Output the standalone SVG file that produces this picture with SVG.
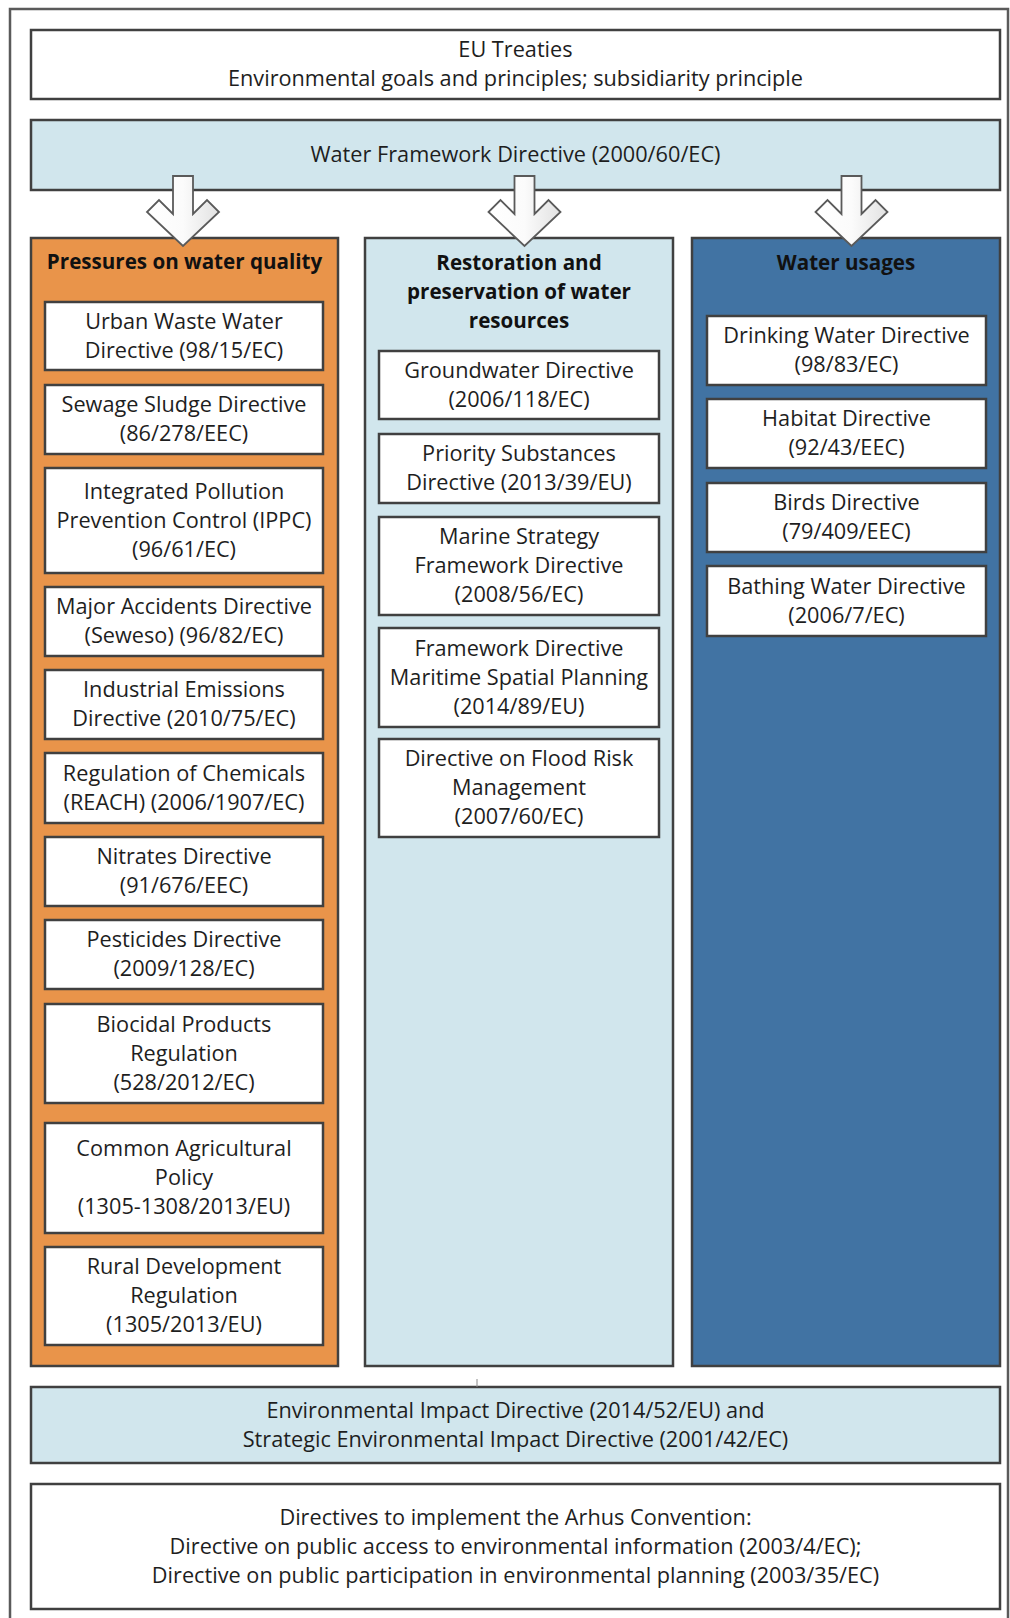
<svg xmlns="http://www.w3.org/2000/svg" width="1010" height="1618" viewBox="0 0 1010 1618">
<style>
  text { font-family: "Open Sans", "Noto Sans", "DejaVu Sans", sans-serif; font-size: 21.7px; fill: #1e1e1e; text-anchor: middle; }
  .hdr { font-weight: bold; font-size: 20.6px; fill: #111; }
  .box { fill: #ffffff; stroke: #404040; stroke-width: 2.5; }
  .lb { fill: #d1e6ed; stroke: #404040; stroke-width: 2.5; }
  .or { fill: #e9944a; stroke: #404040; stroke-width: 2.5; }
  .db { fill: #4173a3; stroke: #404040; stroke-width: 2.5; }
  .frame { fill: #ffffff; stroke: #5a5a5a; stroke-width: 2.5; }
  .arrow { fill: url(#ag); stroke: #5a5a5a; stroke-width: 1.8; stroke-linejoin: miter; }
</style>
<defs>
  <linearGradient id="ag" x1="0" y1="0" x2="1" y2="0">
    <stop offset="0" stop-color="#ffffff"/>
    <stop offset="0.5" stop-color="#fbfbfb"/>
    <stop offset="1" stop-color="#e2e2e2"/>
  </linearGradient>
  <path id="arr" d="M-10,0 H10 V38 L24,24 L36,36 L0,70 L-36,36 L-24,24 L-10,38 Z"/>
</defs>

<rect class="frame" x="10" y="9" width="998" height="1625"/>

<g id="eu-treaties">
  <rect class="box" x="31" y="30" width="969" height="69"/>
  <text x="515.5" y="57">EU Treaties</text>
  <text x="515.5" y="86">Environmental goals and principles; subsidiarity principle</text>
</g>

<g id="wfd">
  <rect class="lb" x="31" y="120" width="969" height="70"/>
  <text x="515.5" y="162">Water Framework Directive (2000/60/EC)</text>
</g>

<g id="col-pressures">
  <rect class="or" x="31" y="238" width="307" height="1128"/>
  <text class="hdr" x="184.5" y="269">Pressures on water quality</text>
</g>
<g id="col-restoration">
  <rect class="lb" x="365" y="238" width="308" height="1128"/>
  <text class="hdr" x="519" y="270">Restoration and</text>
  <text class="hdr" x="519" y="299">preservation of water</text>
  <text class="hdr" x="519" y="328">resources</text>
</g>
<g id="col-usages">
  <rect class="db" x="692" y="238" width="308" height="1128"/>
  <text class="hdr" x="846" y="270">Water usages</text>
</g>

<!-- Pressures column boxes -->
<g id="uwwd"><rect class="box" x="45" y="302" width="278" height="68"/>
  <text x="184" y="328.5">Urban Waste Water</text><text x="184" y="357.5">Directive (98/15/EC)</text></g>
<g id="sewage"><rect class="box" x="45" y="385" width="278" height="69"/>
  <text x="184" y="412">Sewage Sludge Directive</text><text x="184" y="441">(86/278/EEC)</text></g>
<g id="ippc"><rect class="box" x="45" y="468" width="278" height="105"/>
  <text x="184" y="498.5">Integrated Pollution</text><text x="184" y="527.5">Prevention Control (IPPC)</text><text x="184" y="556.5">(96/61/EC)</text></g>
<g id="seveso"><rect class="box" x="45" y="587" width="278" height="69"/>
  <text x="184" y="614">Major Accidents Directive</text><text x="184" y="643">(Seweso) (96/82/EC)</text></g>
<g id="ied"><rect class="box" x="45" y="670" width="278" height="69"/>
  <text x="184" y="697">Industrial Emissions</text><text x="184" y="726">Directive (2010/75/EC)</text></g>
<g id="reach"><rect class="box" x="45" y="753" width="278" height="70"/>
  <text x="184" y="780.5">Regulation of Chemicals</text><text x="184" y="809.5">(REACH) (2006/1907/EC)</text></g>
<g id="nitrates"><rect class="box" x="45" y="837" width="278" height="69"/>
  <text x="184" y="864">Nitrates Directive</text><text x="184" y="893">(91/676/EEC)</text></g>
<g id="pesticides"><rect class="box" x="45" y="920" width="278" height="69"/>
  <text x="184" y="947">Pesticides Directive</text><text x="184" y="976">(2009/128/EC)</text></g>
<g id="biocidal"><rect class="box" x="45" y="1004" width="278" height="99"/>
  <text x="184" y="1031.5">Biocidal Products</text><text x="184" y="1060.5">Regulation</text><text x="184" y="1089.5">(528/2012/EC)</text></g>
<g id="cap"><rect class="box" x="45" y="1123" width="278" height="110"/>
  <text x="184" y="1156">Common Agricultural</text><text x="184" y="1185">Policy</text><text x="184" y="1214">(1305-1308/2013/EU)</text></g>
<g id="rdr"><rect class="box" x="45" y="1247" width="278" height="98"/>
  <text x="184" y="1274">Rural Development</text><text x="184" y="1303">Regulation</text><text x="184" y="1332">(1305/2013/EU)</text></g>

<!-- Restoration column boxes -->
<g id="groundwater"><rect class="box" x="379" y="351" width="280" height="68"/>
  <text x="519" y="377.5">Groundwater Directive</text><text x="519" y="406.5">(2006/118/EC)</text></g>
<g id="priority"><rect class="box" x="379" y="434" width="280" height="69"/>
  <text x="519" y="461">Priority Substances</text><text x="519" y="490">Directive (2013/39/EU)</text></g>
<g id="msfd"><rect class="box" x="379" y="517" width="280" height="98"/>
  <text x="519" y="544">Marine Strategy</text><text x="519" y="573">Framework Directive</text><text x="519" y="602">(2008/56/EC)</text></g>
<g id="msp"><rect class="box" x="379" y="628" width="280" height="99"/>
  <text x="519" y="655.5">Framework Directive</text><text x="519" y="684.5">Maritime Spatial Planning</text><text x="519" y="713.5">(2014/89/EU)</text></g>
<g id="flood"><rect class="box" x="379" y="739" width="280" height="98"/>
  <text x="519" y="766">Directive on Flood Risk</text><text x="519" y="795">Management</text><text x="519" y="824">(2007/60/EC)</text></g>

<!-- Usages column boxes -->
<g id="drinking"><rect class="box" x="707" y="316" width="279" height="69"/>
  <text x="846.5" y="343">Drinking Water Directive</text><text x="846.5" y="372">(98/83/EC)</text></g>
<g id="habitat"><rect class="box" x="707" y="399" width="279" height="69"/>
  <text x="846.5" y="426">Habitat Directive</text><text x="846.5" y="455">(92/43/EEC)</text></g>
<g id="birds"><rect class="box" x="707" y="483" width="279" height="69"/>
  <text x="846.5" y="510">Birds Directive</text><text x="846.5" y="539">(79/409/EEC)</text></g>
<g id="bathing"><rect class="box" x="707" y="566" width="279" height="70"/>
  <text x="846.5" y="593.5">Bathing Water Directive</text><text x="846.5" y="622.5">(2006/7/EC)</text></g>

<g id="eia">
  <rect class="lb" x="31" y="1387" width="969" height="76"/>
  <text x="515.5" y="1417.5">Environmental Impact Directive (2014/52/EU) and</text>
  <text x="515.5" y="1446.5">Strategic Environmental Impact Directive (2001/42/EC)</text>
</g>

<g id="arhus">
  <rect class="box" x="31" y="1484" width="969" height="125"/>
  <text x="515.5" y="1525">Directives to implement the Arhus Convention:</text>
  <text x="515.5" y="1554">Directive on public access to environmental information (2003/4/EC);</text>
  <text x="515.5" y="1583">Directive on public participation in environmental planning (2003/35/EC)</text>
</g>

<g id="connectors">
  <use href="#arr" class="arrow" transform="translate(183,176)"/>
  <use href="#arr" class="arrow" transform="translate(524.5,176)"/>
  <use href="#arr" class="arrow" transform="translate(851.5,176)"/>
  <line x1="477" y1="1379" x2="477" y2="1387" stroke="#8a8a8a" stroke-width="1"/>
</g>
</svg>
